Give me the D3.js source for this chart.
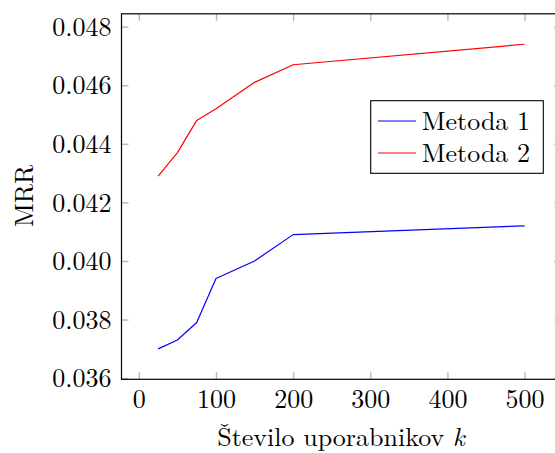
<!DOCTYPE html>
<html><head><meta charset="utf-8">
<script src="https://cdn.jsdelivr.net/npm/d3@7"></script>
<style>body{margin:0;background:#fff}svg{display:block}</style>
</head><body><svg id="c" width="555" height="453"></svg>
<script>
const kValues = [25, 50, 75, 100, 150, 200, 500];
const metoda1 = [0.0370, 0.0373, 0.0379, 0.0394, 0.0400, 0.0409, 0.0412];
const metoda2 = [0.0429, 0.0437, 0.0448, 0.0452, 0.0461, 0.0467, 0.0474];
const seriesNames = ["Metoda 1", "Metoda 2"];
const seriesColors = ["#0000ff", "#ff0000"];
const xTicks = [0, 100, 200, 300, 400, 500];
const yTicks = [0.036, 0.038, 0.040, 0.042, 0.044, 0.046, 0.048];
const xLabel = "Število uporabnikov ";
const yLabel = "MRR";

const FONT = "'Latin Modern Roman','Liberation Serif',serif";
const svg = d3.select("#c");
const L = 121.5, R = 561.2, T = 13.8, B = 379.3;
const x = d3.scaleLinear().domain([-22.5, 547.5]).range([L, R]);
const y = d3.scaleLinear().domain([0.03596, 0.04844]).range([B, T]);
const fs = 26;

function styleAxis(g){
  g.attr("font-family", null).attr("font-size", null);
  g.select(".domain").remove();
  g.selectAll(".tick line").attr("stroke", "#b8b8b8").attr("stroke-width", 1.4);
  g.selectAll("text").style("font-family", FONT).style("font-size", fs + "px").attr("fill", "#000");
}
// bottom
const gb = svg.append("g").attr("transform", `translate(0,${B})`)
  .call(d3.axisBottom(x).tickValues(xTicks).tickSize(-7).tickFormat(d3.format("d")));
styleAxis(gb);
gb.selectAll("text").attr("y", 28.5).attr("dy", null);
// top
const gt = svg.append("g").attr("transform", `translate(0,${T})`)
  .call(d3.axisTop(x).tickValues(xTicks).tickSize(-7).tickFormat(""));
styleAxis(gt);
// left
const gl = svg.append("g").attr("transform", `translate(${L},0)`)
  .call(d3.axisLeft(y).tickValues(yTicks).tickSize(-7).tickFormat(d3.format(".3f")));
styleAxis(gl);
gl.selectAll("text").attr("x", -10).attr("dy", "0.33em");
// right
const gr = svg.append("g").attr("transform", `translate(${R},0)`)
  .call(d3.axisRight(y).tickValues(yTicks).tickSize(-7).tickFormat(""));
styleAxis(gr);

// frame
svg.append("rect").attr("x", L).attr("y", T).attr("width", R - L).attr("height", B - T)
  .attr("fill", "none").attr("stroke", "#000").attr("stroke-width", 1.2);

const line = d3.line().x((d, i) => x(kValues[i])).y(d => y(d));
[metoda1, metoda2].forEach((s, i) => {
  svg.append("path").datum(s).attr("d", line).attr("fill", "none")
    .attr("stroke", seriesColors[i]).attr("stroke-width", 1.2).attr("stroke-linejoin", "round");
});

// legend
const lg = svg.append("g");
lg.append("rect").attr("x", 370.7).attr("y", 100.7).attr("width", 172.6).attr("height", 72.6)
  .attr("fill", "#fff").attr("stroke", "#000").attr("stroke-width", 1.1);
seriesNames.forEach((n, i) => {
  const cy = 121 + i * 32;
  lg.append("line").attr("x1", 378).attr("x2", 416).attr("y1", cy).attr("y2", cy)
    .attr("stroke", seriesColors[i]).attr("stroke-width", 1.2);
  lg.append("text").attr("x", 421.7).attr("y", cy + 9)
    .style("font-family", FONT).style("font-size", fs + "px").text(n);
});

// axis labels
const xl = svg.append("text").attr("x", 341).attr("y", 446).attr("text-anchor", "middle")
  .style("font-family", FONT).style("font-size", fs + "px");
xl.append("tspan").text(xLabel);
xl.append("tspan").attr("font-style", "italic").text("k");
svg.append("text").attr("transform", "translate(33,196) rotate(-90)").attr("text-anchor", "middle")
  .style("font-family", FONT).style("font-size", fs + "px").text(yLabel);
</script></body></html>
